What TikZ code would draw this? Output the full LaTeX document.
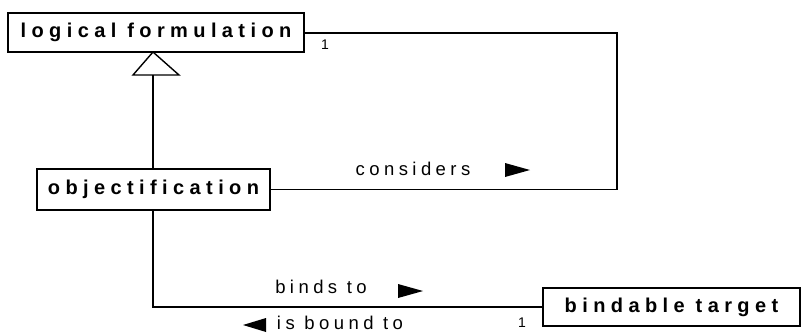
\documentclass[tikz,border=0pt]{standalone}
\usepackage{fontspec}
\setmainfont{Liberation Sans}
\newfontfamily\clsfont[LetterSpace=27]{Liberation Sans Bold}
\newfontfamily\lblfont[LetterSpace=24]{Liberation Sans}
\usetikzlibrary{positioning}
\begin{document}
\begin{tikzpicture}[x=1pt,y=-1pt,
  cls/.style={draw,line width=1.8pt,inner sep=0pt,font=\clsfont\fontsize{20}{22}\selectfont},
  conn/.style={line width=1.6pt},
  lbl/.style={inner sep=0pt,font=\lblfont\fontsize{18.5}{21}\selectfont},
  mult/.style={inner sep=0pt,font=\fontsize{14}{16}\selectfont},
  tri/.style={fill=black}]
\useasboundingbox (0,0) rectangle (805,333);
\node[cls,minimum width=296pt,minimum height=39pt] (lf) at (156,32.5) {logical formulation};
\node[cls,minimum width=233pt,minimum height=41pt] (obj) at (153.5,189.5) {objectification};
\node[cls,minimum width=257pt,minimum height=38pt] (bt) at (671.5,307) {bindable target};
% generalization
\coordinate (apex) at (153,52);
\coordinate (tb) at (153,75);
\draw[line width=1.4pt,fill=white] (apex) -- (133,75) -- (179,75) -- cycle;
\draw[conn] (tb) -- (tb |- obj.north);
% considers
\coordinate (c1) at (617,189.5);
\coordinate (c2) at (617,33);
\draw[conn] (obj.east) -- (c1) -- (c2) -- (lf.east |- c2);
\node[mult] (m1) at (325,45) {1};
\node[lbl] (cons) at (413,169) {considers};
\fill (505,163) -- (530,170) -- (505,177) -- cycle;
% binds to
\coordinate (b1) at (153,307);
\draw[conn] (obj.south -| tb) -- (b1) -- (bt.west);
\node[lbl] (bind) at (321,287) {binds to};
\fill (398,284) -- (423,291) -- (398,298) -- cycle;
\node[lbl] (isb) at (340,322.5) {is bound to};
\fill (266,318) -- (243,325) -- (266,332) -- cycle;
\node[mult] (m2) at (522,323) {1};
\end{tikzpicture}
\end{document}
